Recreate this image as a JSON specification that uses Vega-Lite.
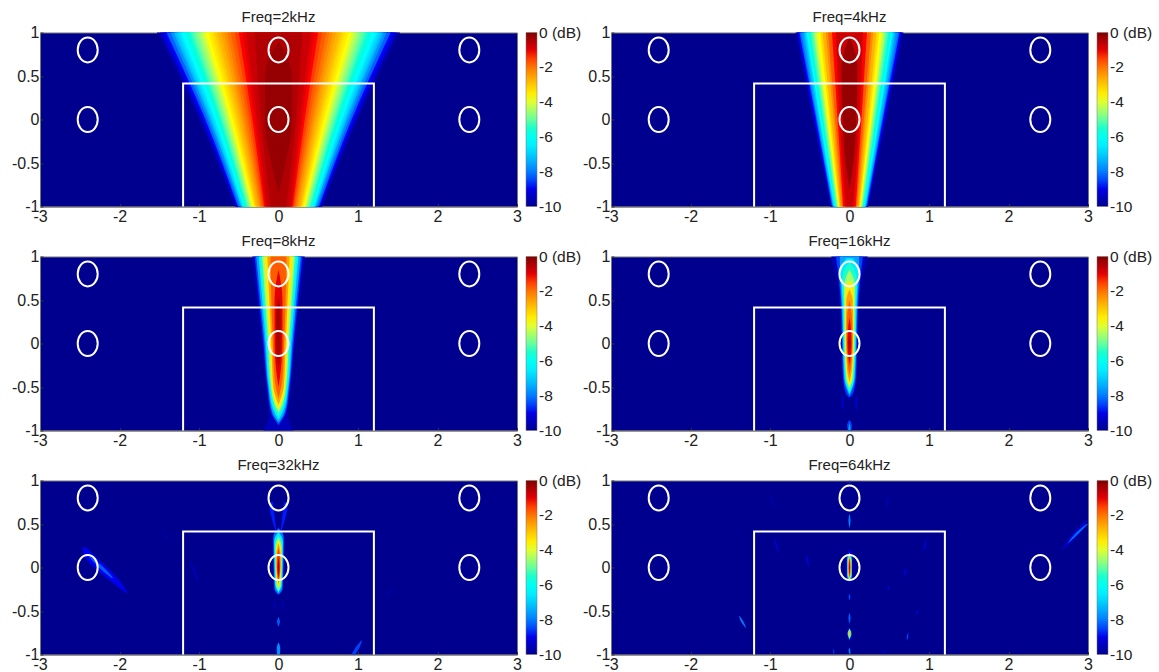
{"$schema":"https://vega.github.io/schema/vega-lite/v6.json",
"padding":{"left":10,"top":9.5,"right":0,"bottom":16},
"background":"white",
"config":{"view":{"fill":"#00008f","stroke":"#777777","strokeWidth":1},
"font":"Liberation Sans",
"title":{"fontSize":15,"fontWeight":"normal","color":"#222222","offset":-0.5,"font":"Liberation Sans"},
"axis":{"grid":false,"title":null,"labelFontSize":16,"labelColor":"#222222","labelFont":"Liberation Sans","domainColor":"#777777","tickColor":"#333333","tickSize":-3,"labelPadding":2,"labelFlush":false,"labelOverlap":false},
"axisX":{"labelExpr":"''+datum.value","labelPadding":5},
"axisY":{"labelExpr":"''+datum.value","labelPadding":4},
"legend":{"gradientLength":174,"gradientThickness":11,"offset":9,"padding":0,"labelFontSize":15.5,"labelColor":"#222222","labelFont":"Liberation Sans","labelOffset":1,"titlePadding":0,"gradientStrokeColor":"#777777","gradientStrokeWidth":0.5}},
"resolve":{"scale":{"color":"independent"}},
"columns":2,"spacing":{"row":50,"column":94},"bounds":"flush",
"datasets":{
"circles":[{"a":-2.4,"y":0.8},{"a":0,"y":0.8},{"a":2.4,"y":0.8},{"a":-2.4,"y":0},{"a":0,"y":0},{"a":2.4,"y":0}],
"box":[{"i":0,"a":-1.2,"y":-1},{"i":1,"a":-1.2,"y":0.414},{"i":2,"a":1.2,"y":0.414},{"i":3,"a":1.2,"y":-1}],
"d2":[
{"g":1,"v":-9.75,"y":1,"a":-1.53,"b":1.53},{"g":1,"v":-9.75,"y":0,"a":-1.0,"b":1.0},{"g":1,"v":-9.75,"y":-1,"a":-0.55,"b":0.55},
{"g":2,"v":-9.25,"y":1,"a":-1.49,"b":1.49},{"g":2,"v":-9.25,"y":0,"a":-0.975,"b":0.975},{"g":2,"v":-9.25,"y":-1,"a":-0.54,"b":0.54},
{"g":3,"v":-8.75,"y":1,"a":-1.45,"b":1.45},{"g":3,"v":-8.75,"y":0,"a":-0.95,"b":0.95},{"g":3,"v":-8.75,"y":-1,"a":-0.52,"b":0.52},
{"g":4,"v":-8.25,"y":1,"a":-1.41,"b":1.41},{"g":4,"v":-8.25,"y":0,"a":-0.92,"b":0.92},{"g":4,"v":-8.25,"y":-1,"a":-0.51,"b":0.51},
{"g":5,"v":-7.75,"y":1,"a":-1.36,"b":1.36},{"g":5,"v":-7.75,"y":0,"a":-0.89,"b":0.89},{"g":5,"v":-7.75,"y":-1,"a":-0.49,"b":0.49},
{"g":6,"v":-7.25,"y":1,"a":-1.32,"b":1.32},{"g":6,"v":-7.25,"y":0,"a":-0.86,"b":0.86},{"g":6,"v":-7.25,"y":-1,"a":-0.47,"b":0.47},
{"g":31,"v":-7,"y":1,"a":-1.295,"b":1.295},{"g":31,"v":-7,"y":0,"a":-0.845,"b":0.845},{"g":31,"v":-7,"y":-1,"a":-0.465,"b":0.465},
{"g":7,"v":-6.75,"y":1,"a":-1.27,"b":1.27},{"g":7,"v":-6.75,"y":0,"a":-0.83,"b":0.83},{"g":7,"v":-6.75,"y":-1,"a":-0.46,"b":0.46},
{"g":32,"v":-6.5,"y":1,"a":-1.245,"b":1.245},{"g":32,"v":-6.5,"y":0,"a":-0.81,"b":0.81},{"g":32,"v":-6.5,"y":-1,"a":-0.45,"b":0.45},
{"g":8,"v":-6.25,"y":1,"a":-1.22,"b":1.22},{"g":8,"v":-6.25,"y":0,"a":-0.795,"b":0.795},{"g":8,"v":-6.25,"y":-1,"a":-0.44,"b":0.44},
{"g":33,"v":-6,"y":1,"a":-1.19,"b":1.19},{"g":33,"v":-6,"y":0,"a":-0.78,"b":0.78},{"g":33,"v":-6,"y":-1,"a":-0.43,"b":0.43},
{"g":9,"v":-5.75,"y":1,"a":-1.16,"b":1.16},{"g":9,"v":-5.75,"y":0,"a":-0.76,"b":0.76},{"g":9,"v":-5.75,"y":-1,"a":-0.42,"b":0.42},
{"g":34,"v":-5.5,"y":1,"a":-1.13,"b":1.13},{"g":34,"v":-5.5,"y":0,"a":-0.74,"b":0.74},{"g":34,"v":-5.5,"y":-1,"a":-0.41,"b":0.41},
{"g":10,"v":-5.25,"y":1,"a":-1.1,"b":1.1},{"g":10,"v":-5.25,"y":0,"a":-0.72,"b":0.72},{"g":10,"v":-5.25,"y":-1,"a":-0.4,"b":0.4},
{"g":35,"v":-5,"y":1,"a":-1.07,"b":1.07},{"g":35,"v":-5,"y":0,"a":-0.7,"b":0.7},{"g":35,"v":-5,"y":-1,"a":-0.385,"b":0.385},
{"g":11,"v":-4.75,"y":1,"a":-1.04,"b":1.04},{"g":11,"v":-4.75,"y":0,"a":-0.68,"b":0.68},{"g":11,"v":-4.75,"y":-1,"a":-0.37,"b":0.37},
{"g":36,"v":-4.5,"y":1,"a":-1.01,"b":1.01},{"g":36,"v":-4.5,"y":0,"a":-0.66,"b":0.66},{"g":36,"v":-4.5,"y":-1,"a":-0.36,"b":0.36},
{"g":12,"v":-4.25,"y":1,"a":-0.98,"b":0.98},{"g":12,"v":-4.25,"y":0,"a":-0.64,"b":0.64},{"g":12,"v":-4.25,"y":-1,"a":-0.35,"b":0.35},
{"g":37,"v":-4,"y":1,"a":-0.95,"b":0.95},{"g":37,"v":-4,"y":0,"a":-0.62,"b":0.62},{"g":37,"v":-4,"y":-1,"a":-0.34,"b":0.34},
{"g":13,"v":-3.75,"y":1,"a":-0.92,"b":0.92},{"g":13,"v":-3.75,"y":0,"a":-0.6,"b":0.6},{"g":13,"v":-3.75,"y":-1,"a":-0.33,"b":0.33},
{"g":38,"v":-3.5,"y":1,"a":-0.88,"b":0.88},{"g":38,"v":-3.5,"y":0,"a":-0.575,"b":0.575},{"g":38,"v":-3.5,"y":-1,"a":-0.315,"b":0.315},
{"g":14,"v":-3.25,"y":1,"a":-0.84,"b":0.84},{"g":14,"v":-3.25,"y":0,"a":-0.55,"b":0.55},{"g":14,"v":-3.25,"y":-1,"a":-0.3,"b":0.3},
{"g":39,"v":-3,"y":1,"a":-0.805,"b":0.805},{"g":39,"v":-3,"y":0,"a":-0.525,"b":0.525},{"g":39,"v":-3,"y":-1,"a":-0.29,"b":0.29},
{"g":15,"v":-2.75,"y":1,"a":-0.77,"b":0.77},{"g":15,"v":-2.75,"y":0,"a":-0.5,"b":0.5},{"g":15,"v":-2.75,"y":-1,"a":-0.28,"b":0.28},
{"g":40,"v":-2.5,"y":1,"a":-0.725,"b":0.725},{"g":40,"v":-2.5,"y":0,"a":-0.47,"b":0.47},{"g":40,"v":-2.5,"y":-1,"a":-0.26,"b":0.26},
{"g":16,"v":-2.25,"y":1,"a":-0.68,"b":0.68},{"g":16,"v":-2.25,"y":0,"a":-0.445,"b":0.445},{"g":16,"v":-2.25,"y":-1,"a":-0.24,"b":0.24},
{"g":41,"v":-2,"y":1,"a":-0.64,"b":0.64},{"g":41,"v":-2,"y":0,"a":-0.42,"b":0.42},{"g":41,"v":-2,"y":-1,"a":-0.225,"b":0.225},
{"g":17,"v":-1.75,"y":1,"a":-0.6,"b":0.6},{"g":17,"v":-1.75,"y":0,"a":-0.39,"b":0.39},{"g":17,"v":-1.75,"y":-1,"a":-0.21,"b":0.21},
{"g":42,"v":-1.5,"y":1,"a":-0.55,"b":0.55},{"g":42,"v":-1.5,"y":0,"a":-0.36,"b":0.36},{"g":42,"v":-1.5,"y":-1,"a":-0.195,"b":0.195},
{"g":18,"v":-1.25,"y":1,"a":-0.5,"b":0.5},{"g":18,"v":-1.25,"y":0,"a":-0.33,"b":0.33},{"g":18,"v":-1.25,"y":-1,"a":-0.18,"b":0.18},
{"g":43,"v":-1,"y":1,"a":-0.455,"b":0.455},{"g":43,"v":-1,"y":0,"a":-0.3,"b":0.3},{"g":43,"v":-1,"y":-1,"a":-0.165,"b":0.165},
{"g":19,"v":-0.75,"y":1,"a":-0.41,"b":0.41},{"g":19,"v":-0.75,"y":0,"a":-0.27,"b":0.27},{"g":19,"v":-0.75,"y":-1,"a":-0.15,"b":0.15},
{"g":44,"v":-0.5,"y":1,"a":-0.3,"b":0.3},{"g":44,"v":-0.5,"y":0,"a":-0.22,"b":0.22},{"g":44,"v":-0.5,"y":-1,"a":-0.1,"b":0.1},
{"g":20,"v":-0.25,"y":0.9,"a":0,"b":0},{"g":20,"v":-0.25,"y":0.5,"a":-0.17,"b":0.17},{"g":20,"v":-0.25,"y":0,"a":-0.17,"b":0.17},{"g":20,"v":-0.25,"y":-0.5,"a":-0.09,"b":0.09},{"g":20,"v":-0.25,"y":-0.85,"a":0,"b":0}
],
"d4":[
{"g":1,"v":-9.75,"y":1,"a":-0.68,"b":0.68},{"g":1,"v":-9.75,"y":0,"a":-0.46,"b":0.46},{"g":1,"v":-9.75,"y":-1,"a":-0.24,"b":0.24},
{"g":2,"v":-9.25,"y":1,"a":-0.66,"b":0.66},{"g":2,"v":-9.25,"y":0,"a":-0.45,"b":0.45},{"g":2,"v":-9.25,"y":-1,"a":-0.23,"b":0.23},
{"g":3,"v":-8.75,"y":1,"a":-0.65,"b":0.65},{"g":3,"v":-8.75,"y":0,"a":-0.44,"b":0.44},{"g":3,"v":-8.75,"y":-1,"a":-0.225,"b":0.225},
{"g":4,"v":-8.25,"y":1,"a":-0.63,"b":0.63},{"g":4,"v":-8.25,"y":0,"a":-0.42,"b":0.42},{"g":4,"v":-8.25,"y":-1,"a":-0.22,"b":0.22},
{"g":5,"v":-7.75,"y":1,"a":-0.61,"b":0.61},{"g":5,"v":-7.75,"y":0,"a":-0.41,"b":0.41},{"g":5,"v":-7.75,"y":-1,"a":-0.21,"b":0.21},
{"g":6,"v":-7.25,"y":1,"a":-0.58,"b":0.58},{"g":6,"v":-7.25,"y":0,"a":-0.4,"b":0.4},{"g":6,"v":-7.25,"y":-1,"a":-0.205,"b":0.205},
{"g":7,"v":-6.75,"y":1,"a":-0.56,"b":0.56},{"g":7,"v":-6.75,"y":0,"a":-0.38,"b":0.38},{"g":7,"v":-6.75,"y":-1,"a":-0.2,"b":0.2},
{"g":8,"v":-6.25,"y":1,"a":-0.54,"b":0.54},{"g":8,"v":-6.25,"y":0,"a":-0.37,"b":0.37},{"g":8,"v":-6.25,"y":-1,"a":-0.19,"b":0.19},
{"g":9,"v":-5.75,"y":1,"a":-0.52,"b":0.52},{"g":9,"v":-5.75,"y":0,"a":-0.35,"b":0.35},{"g":9,"v":-5.75,"y":-1,"a":-0.18,"b":0.18},
{"g":10,"v":-5.25,"y":1,"a":-0.49,"b":0.49},{"g":10,"v":-5.25,"y":0,"a":-0.33,"b":0.33},{"g":10,"v":-5.25,"y":-1,"a":-0.17,"b":0.17},
{"g":11,"v":-4.75,"y":1,"a":-0.46,"b":0.46},{"g":11,"v":-4.75,"y":0,"a":-0.31,"b":0.31},{"g":11,"v":-4.75,"y":-1,"a":-0.16,"b":0.16},
{"g":12,"v":-4.25,"y":1,"a":-0.44,"b":0.44},{"g":12,"v":-4.25,"y":0,"a":-0.29,"b":0.29},{"g":12,"v":-4.25,"y":-1,"a":-0.15,"b":0.15},
{"g":13,"v":-3.75,"y":1,"a":-0.41,"b":0.41},{"g":13,"v":-3.75,"y":0,"a":-0.28,"b":0.28},{"g":13,"v":-3.75,"y":-1,"a":-0.14,"b":0.14},
{"g":14,"v":-3.25,"y":1,"a":-0.37,"b":0.37},{"g":14,"v":-3.25,"y":0,"a":-0.25,"b":0.25},{"g":14,"v":-3.25,"y":-1,"a":-0.13,"b":0.13},
{"g":15,"v":-2.75,"y":1,"a":-0.34,"b":0.34},{"g":15,"v":-2.75,"y":0,"a":-0.23,"b":0.23},{"g":15,"v":-2.75,"y":-1,"a":-0.12,"b":0.12},
{"g":16,"v":-2.25,"y":1,"a":-0.3,"b":0.3},{"g":16,"v":-2.25,"y":0,"a":-0.2,"b":0.2},{"g":16,"v":-2.25,"y":-1,"a":-0.11,"b":0.11},
{"g":17,"v":-1.75,"y":1,"a":-0.27,"b":0.27},{"g":17,"v":-1.75,"y":0,"a":-0.18,"b":0.18},{"g":17,"v":-1.75,"y":-1,"a":-0.09,"b":0.09},
{"g":18,"v":-1.25,"y":1,"a":-0.22,"b":0.22},{"g":18,"v":-1.25,"y":0,"a":-0.15,"b":0.15},{"g":18,"v":-1.25,"y":-1,"a":-0.08,"b":0.08},
{"g":19,"v":-0.75,"y":1,"a":-0.17,"b":0.17},{"g":19,"v":-0.75,"y":0,"a":-0.125,"b":0.125},{"g":19,"v":-0.75,"y":-1,"a":-0.05,"b":0.05},
{"g":20,"v":-0.25,"y":0.95,"a":0,"b":0},{"g":20,"v":-0.25,"y":0.6,"a":-0.1,"b":0.1},{"g":20,"v":-0.25,"y":0,"a":-0.085,"b":0.085},{"g":20,"v":-0.25,"y":-0.5,"a":-0.05,"b":0.05},{"g":20,"v":-0.25,"y":-0.8,"a":0,"b":0}
],
"d8":[
{"g":1,"v":-9.5,"y":1,"a":-0.33,"b":0.33},{"g":1,"v":-9.5,"y":0,"a":-0.21,"b":0.21},{"g":1,"v":-9.5,"y":-0.5,"a":-0.16,"b":0.16},{"g":1,"v":-9.5,"y":-0.8,"a":-0.12,"b":0.12},{"g":1,"v":-9.5,"y":-0.93,"a":-0.15,"b":0.15},{"g":1,"v":-9.5,"y":-1,"a":-0.19,"b":0.19},
{"g":2,"v":-8.5,"y":1,"a":-0.3,"b":0.3},{"g":2,"v":-8.5,"y":0,"a":-0.19,"b":0.19},{"g":2,"v":-8.5,"y":-0.5,"a":-0.14,"b":0.14},{"g":2,"v":-8.5,"y":-0.8,"a":-0.09,"b":0.09},{"g":2,"v":-8.5,"y":-0.94,"a":0,"b":0},
{"g":3,"v":-7.5,"y":1,"a":-0.28,"b":0.28},{"g":3,"v":-7.5,"y":0,"a":-0.175,"b":0.175},{"g":3,"v":-7.5,"y":-0.5,"a":-0.13,"b":0.13},{"g":3,"v":-7.5,"y":-0.8,"a":-0.075,"b":0.075},{"g":3,"v":-7.5,"y":-0.91,"a":0,"b":0},
{"g":4,"v":-6.5,"y":1,"a":-0.25,"b":0.25},{"g":4,"v":-6.5,"y":0,"a":-0.16,"b":0.16},{"g":4,"v":-6.5,"y":-0.5,"a":-0.12,"b":0.12},{"g":4,"v":-6.5,"y":-0.75,"a":-0.07,"b":0.07},{"g":4,"v":-6.5,"y":-0.88,"a":0,"b":0},
{"g":5,"v":-5.5,"y":1,"a":-0.23,"b":0.23},{"g":5,"v":-5.5,"y":0,"a":-0.145,"b":0.145},{"g":5,"v":-5.5,"y":-0.5,"a":-0.105,"b":0.105},{"g":5,"v":-5.5,"y":-0.75,"a":-0.05,"b":0.05},{"g":5,"v":-5.5,"y":-0.84,"a":0,"b":0},
{"g":6,"v":-4.5,"y":1,"a":-0.205,"b":0.205},{"g":6,"v":-4.5,"y":0,"a":-0.13,"b":0.13},{"g":6,"v":-4.5,"y":-0.5,"a":-0.095,"b":0.095},{"g":6,"v":-4.5,"y":-0.7,"a":-0.05,"b":0.05},{"g":6,"v":-4.5,"y":-0.8,"a":0,"b":0},
{"g":7,"v":-3.5,"y":1,"a":-0.18,"b":0.18},{"g":7,"v":-3.5,"y":0,"a":-0.11,"b":0.11},{"g":7,"v":-3.5,"y":-0.5,"a":-0.08,"b":0.08},{"g":7,"v":-3.5,"y":-0.65,"a":-0.05,"b":0.05},{"g":7,"v":-3.5,"y":-0.76,"a":0,"b":0},
{"g":8,"v":-2.5,"y":1,"a":-0.14,"b":0.14},{"g":8,"v":-2.5,"y":0,"a":-0.09,"b":0.09},{"g":8,"v":-2.5,"y":-0.5,"a":-0.065,"b":0.065},{"g":8,"v":-2.5,"y":-0.6,"a":-0.04,"b":0.04},{"g":8,"v":-2.5,"y":-0.7,"a":0,"b":0},
{"g":9,"v":-1.75,"y":1,"a":-0.1,"b":0.1},{"g":9,"v":-1.75,"y":0.5,"a":-0.09,"b":0.09},{"g":9,"v":-1.75,"y":0,"a":-0.07,"b":0.07},{"g":9,"v":-1.75,"y":-0.4,"a":-0.05,"b":0.05},{"g":9,"v":-1.75,"y":-0.63,"a":0,"b":0},
{"g":10,"v":-1,"y":0.85,"a":0,"b":0},{"g":10,"v":-1,"y":0.5,"a":-0.05,"b":0.05},{"g":10,"v":-1,"y":0,"a":-0.05,"b":0.05},{"g":10,"v":-1,"y":-0.3,"a":-0.03,"b":0.03},{"g":10,"v":-1,"y":-0.5,"a":0,"b":0},
{"g":11,"v":-0.4,"y":0.55,"a":0,"b":0},{"g":11,"v":-0.4,"y":0.3,"a":-0.03,"b":0.03},{"g":11,"v":-0.4,"y":0,"a":-0.03,"b":0.03},{"g":11,"v":-0.4,"y":-0.15,"a":-0.02,"b":0.02},{"g":11,"v":-0.4,"y":-0.3,"a":0,"b":0}
],
"d16":[
{"g":1,"v":-9.5,"y":1,"a":-0.23,"b":0.23},{"g":1,"v":-9.5,"y":0.7,"a":-0.15,"b":0.15},{"g":1,"v":-9.5,"y":0.4,"a":-0.12,"b":0.12},{"g":1,"v":-9.5,"y":0,"a":-0.105,"b":0.105},{"g":1,"v":-9.5,"y":-0.4,"a":-0.09,"b":0.09},{"g":1,"v":-9.5,"y":-0.58,"a":-0.06,"b":0.06},{"g":1,"v":-9.5,"y":-0.64,"a":0,"b":0},
{"g":2,"v":-8.5,"y":1,"a":-0.17,"b":0.17},{"g":2,"v":-8.5,"y":0.7,"a":-0.13,"b":0.13},{"g":2,"v":-8.5,"y":0.4,"a":-0.105,"b":0.105},{"g":2,"v":-8.5,"y":0,"a":-0.095,"b":0.095},{"g":2,"v":-8.5,"y":-0.4,"a":-0.08,"b":0.08},{"g":2,"v":-8.5,"y":-0.58,"a":-0.04,"b":0.04},{"g":2,"v":-8.5,"y":-0.62,"a":0,"b":0},
{"g":3,"v":-7.5,"y":1,"a":-0.12,"b":0.12},{"g":3,"v":-7.5,"y":0.85,"a":-0.12,"b":0.12},{"g":3,"v":-7.5,"y":0.7,"a":-0.115,"b":0.115},{"g":3,"v":-7.5,"y":0.4,"a":-0.095,"b":0.095},{"g":3,"v":-7.5,"y":0,"a":-0.085,"b":0.085},{"g":3,"v":-7.5,"y":-0.4,"a":-0.07,"b":0.07},{"g":3,"v":-7.5,"y":-0.6,"a":0,"b":0},
{"g":4,"v":-6.5,"y":0.98,"a":-0.04,"b":0.04},{"g":4,"v":-6.5,"y":0.85,"a":-0.11,"b":0.11},{"g":4,"v":-6.5,"y":0.7,"a":-0.1,"b":0.1},{"g":4,"v":-6.5,"y":0.4,"a":-0.085,"b":0.085},{"g":4,"v":-6.5,"y":0,"a":-0.078,"b":0.078},{"g":4,"v":-6.5,"y":-0.4,"a":-0.06,"b":0.06},{"g":4,"v":-6.5,"y":-0.58,"a":0,"b":0},
{"g":5,"v":-5.5,"y":0.93,"a":0,"b":0},{"g":5,"v":-5.5,"y":0.8,"a":-0.08,"b":0.08},{"g":5,"v":-5.5,"y":0.7,"a":-0.09,"b":0.09},{"g":5,"v":-5.5,"y":0.4,"a":-0.075,"b":0.075},{"g":5,"v":-5.5,"y":0,"a":-0.07,"b":0.07},{"g":5,"v":-5.5,"y":-0.4,"a":-0.05,"b":0.05},{"g":5,"v":-5.5,"y":-0.55,"a":0,"b":0},
{"g":6,"v":-4.5,"y":0.85,"a":0,"b":0},{"g":6,"v":-4.5,"y":0.75,"a":-0.05,"b":0.05},{"g":6,"v":-4.5,"y":0.65,"a":-0.07,"b":0.07},{"g":6,"v":-4.5,"y":0.4,"a":-0.065,"b":0.065},{"g":6,"v":-4.5,"y":0,"a":-0.062,"b":0.062},{"g":6,"v":-4.5,"y":-0.4,"a":-0.04,"b":0.04},{"g":6,"v":-4.5,"y":-0.52,"a":0,"b":0},
{"g":7,"v":-3.5,"y":0.72,"a":0,"b":0},{"g":7,"v":-3.5,"y":0.65,"a":-0.05,"b":0.05},{"g":7,"v":-3.5,"y":0.4,"a":-0.055,"b":0.055},{"g":7,"v":-3.5,"y":0,"a":-0.052,"b":0.052},{"g":7,"v":-3.5,"y":-0.4,"a":-0.03,"b":0.03},{"g":7,"v":-3.5,"y":-0.48,"a":0,"b":0},
{"g":8,"v":-2.5,"y":0.62,"a":0,"b":0},{"g":8,"v":-2.5,"y":0.5,"a":-0.04,"b":0.04},{"g":8,"v":-2.5,"y":0.2,"a":-0.045,"b":0.045},{"g":8,"v":-2.5,"y":0,"a":-0.043,"b":0.043},{"g":8,"v":-2.5,"y":-0.3,"a":-0.03,"b":0.03},{"g":8,"v":-2.5,"y":-0.44,"a":0,"b":0},
{"g":9,"v":-1.75,"y":0.5,"a":0,"b":0},{"g":9,"v":-1.75,"y":0.3,"a":-0.03,"b":0.03},{"g":9,"v":-1.75,"y":0,"a":-0.035,"b":0.035},{"g":9,"v":-1.75,"y":-0.2,"a":-0.025,"b":0.025},{"g":9,"v":-1.75,"y":-0.37,"a":0,"b":0},
{"g":10,"v":-1,"y":0.3,"a":0,"b":0},{"g":10,"v":-1,"y":0.15,"a":-0.02,"b":0.02},{"g":10,"v":-1,"y":0,"a":-0.025,"b":0.025},{"g":10,"v":-1,"y":-0.1,"a":-0.02,"b":0.02},{"g":10,"v":-1,"y":-0.25,"a":0,"b":0},
{"g":11,"v":-0.4,"y":0.1,"a":0,"b":0},{"g":11,"v":-0.4,"y":0,"a":-0.015,"b":0.015},{"g":11,"v":-0.4,"y":-0.1,"a":0,"b":0},
{"g":12,"v":-9.3,"y":-0.6,"a":-0.1,"b":-0.085},{"g":12,"v":-9.3,"y":-0.68,"a":-0.1,"b":-0.07},{"g":12,"v":-9.3,"y":-0.78,"a":-0.085,"b":-0.085},
{"g":13,"v":-9.3,"y":-0.6,"a":0.085,"b":0.1},{"g":13,"v":-9.3,"y":-0.68,"a":0.07,"b":0.1},{"g":13,"v":-9.3,"y":-0.78,"a":0.085,"b":0.085},
{"g":14,"v":-8.5,"y":-0.88,"a":0,"b":0},{"g":14,"v":-8.5,"y":-0.94,"a":-0.03,"b":0.03},{"g":14,"v":-8.5,"y":-1,"a":-0.02,"b":0.02},
{"g":15,"v":-7.5,"y":-0.92,"a":0,"b":0},{"g":15,"v":-7.5,"y":-0.97,"a":-0.012,"b":0.012},{"g":15,"v":-7.5,"y":-1,"a":-0.01,"b":0.01}
],
"d32":[
{"g":1,"v":-9.5,"y":0.48,"a":0,"b":0},{"g":1,"v":-9.5,"y":0.42,"a":-0.05,"b":0.05},{"g":1,"v":-9.5,"y":0.3,"a":-0.08,"b":0.08},{"g":1,"v":-9.5,"y":0,"a":-0.07,"b":0.07},{"g":1,"v":-9.5,"y":-0.25,"a":-0.06,"b":0.06},{"g":1,"v":-9.5,"y":-0.33,"a":0,"b":0},
{"g":2,"v":-8,"y":0.45,"a":0,"b":0},{"g":2,"v":-8,"y":0.35,"a":-0.065,"b":0.065},{"g":2,"v":-8,"y":0,"a":-0.06,"b":0.06},{"g":2,"v":-8,"y":-0.25,"a":-0.05,"b":0.05},{"g":2,"v":-8,"y":-0.31,"a":0,"b":0},
{"g":3,"v":-6.5,"y":0.41,"a":0,"b":0},{"g":3,"v":-6.5,"y":0.3,"a":-0.055,"b":0.055},{"g":3,"v":-6.5,"y":0,"a":-0.05,"b":0.05},{"g":3,"v":-6.5,"y":-0.2,"a":-0.042,"b":0.042},{"g":3,"v":-6.5,"y":-0.29,"a":0,"b":0},
{"g":4,"v":-5,"y":0.36,"a":0,"b":0},{"g":4,"v":-5,"y":0.25,"a":-0.042,"b":0.042},{"g":4,"v":-5,"y":0,"a":-0.04,"b":0.04},{"g":4,"v":-5,"y":-0.2,"a":-0.032,"b":0.032},{"g":4,"v":-5,"y":-0.27,"a":0,"b":0},
{"g":5,"v":-3.5,"y":0.33,"a":0,"b":0},{"g":5,"v":-3.5,"y":0.2,"a":-0.034,"b":0.034},{"g":5,"v":-3.5,"y":0,"a":-0.034,"b":0.034},{"g":5,"v":-3.5,"y":-0.15,"a":-0.026,"b":0.026},{"g":5,"v":-3.5,"y":-0.24,"a":0,"b":0},
{"g":6,"v":-2.5,"y":0.28,"a":0,"b":0},{"g":6,"v":-2.5,"y":0.15,"a":-0.027,"b":0.027},{"g":6,"v":-2.5,"y":0,"a":-0.027,"b":0.027},{"g":6,"v":-2.5,"y":-0.2,"a":0,"b":0},
{"g":7,"v":-1.5,"y":0.22,"a":0,"b":0},{"g":7,"v":-1.5,"y":0.1,"a":-0.021,"b":0.021},{"g":7,"v":-1.5,"y":0,"a":-0.021,"b":0.021},{"g":7,"v":-1.5,"y":-0.17,"a":0,"b":0},
{"g":8,"v":-0.5,"y":0.12,"a":0,"b":0},{"g":8,"v":-0.5,"y":0,"a":-0.013,"b":0.013},{"g":8,"v":-0.5,"y":-0.12,"a":0,"b":0},
{"g":9,"v":-8.7,"y":0.75,"a":-0.12,"b":-0.07},{"g":9,"v":-8.7,"y":0.6,"a":-0.095,"b":-0.05},{"g":9,"v":-8.7,"y":0.43,"a":-0.04,"b":-0.03},
{"g":10,"v":-8.7,"y":0.75,"a":0.07,"b":0.12},{"g":10,"v":-8.7,"y":0.6,"a":0.05,"b":0.095},{"g":10,"v":-8.7,"y":0.43,"a":0.03,"b":0.04},
{"g":11,"v":-9.4,"y":-0.38,"a":-0.05,"b":-0.05},{"g":11,"v":-9.4,"y":-0.43,"a":-0.06,"b":-0.04},{"g":11,"v":-9.4,"y":-0.5,"a":-0.05,"b":-0.05},
{"g":12,"v":-9.4,"y":-0.38,"a":0.05,"b":0.05},{"g":12,"v":-9.4,"y":-0.43,"a":0.04,"b":0.06},{"g":12,"v":-9.4,"y":-0.5,"a":0.05,"b":0.05},
{"g":13,"v":-8.3,"y":-0.57,"a":0,"b":0},{"g":13,"v":-8.3,"y":-0.62,"a":-0.018,"b":0.018},{"g":13,"v":-8.3,"y":-0.68,"a":0,"b":0},
{"g":14,"v":-7.8,"y":-0.86,"a":0,"b":0},{"g":14,"v":-7.8,"y":-0.93,"a":-0.022,"b":0.022},{"g":14,"v":-7.8,"y":-1,"a":-0.018,"b":0.018},
{"g":15,"v":-8.9,"y":0.23,"a":-2.47,"b":-2.42},{"g":15,"v":-8.9,"y":0.1,"a":-2.42,"b":-2.27},{"g":15,"v":-8.9,"y":-0.07,"a":-2.23,"b":-2.08},{"g":15,"v":-8.9,"y":-0.2,"a":-2.05,"b":-1.96},{"g":15,"v":-8.9,"y":-0.29,"a":-1.92,"b":-1.9},
{"g":16,"v":-8.3,"y":0.12,"a":-2.38,"b":-2.36},{"g":16,"v":-8.3,"y":0,"a":-2.26,"b":-2.2},{"g":16,"v":-8.3,"y":-0.12,"a":-2.1,"b":-2.08},
{"g":17,"v":-9.5,"y":0.06,"a":-1.12,"b":-1.11},{"g":17,"v":-9.5,"y":-0.06,"a":-1.07,"b":-1.04},{"g":17,"v":-9.5,"y":-0.19,"a":-1,"b":-1},
{"g":18,"v":-9.7,"y":0.43,"a":-1.45,"b":-1.45},{"g":18,"v":-9.7,"y":0.36,"a":-1.43,"b":-1.41},{"g":18,"v":-9.7,"y":0.3,"a":-1.39,"b":-1.39},
{"g":19,"v":-8.5,"y":-0.84,"a":1.04,"b":1.05},{"g":19,"v":-8.5,"y":-0.92,"a":0.97,"b":1.02},{"g":19,"v":-8.5,"y":-1,"a":0.92,"b":0.96},
{"g":20,"v":-9.7,"y":-0.23,"a":1.43,"b":1.44},{"g":20,"v":-9.7,"y":-0.3,"a":1.37,"b":1.39},{"g":20,"v":-9.7,"y":-0.37,"a":1.33,"b":1.33}
],
"d64":[
{"g":1,"v":-9,"y":0.21,"a":0,"b":0},{"g":1,"v":-9,"y":0.1,"a":-0.04,"b":0.04},{"g":1,"v":-9,"y":-0.1,"a":-0.04,"b":0.04},{"g":1,"v":-9,"y":-0.18,"a":0,"b":0},
{"g":2,"v":-7,"y":0.17,"a":0,"b":0},{"g":2,"v":-7,"y":0.1,"a":-0.03,"b":0.03},{"g":2,"v":-7,"y":-0.1,"a":-0.03,"b":0.03},{"g":2,"v":-7,"y":-0.15,"a":0,"b":0},
{"g":3,"v":-5,"y":0.14,"a":0,"b":0},{"g":3,"v":-5,"y":0.08,"a":-0.024,"b":0.024},{"g":3,"v":-5,"y":-0.08,"a":-0.024,"b":0.024},{"g":3,"v":-5,"y":-0.14,"a":0,"b":0},
{"g":4,"v":-3,"y":0.13,"a":0,"b":0},{"g":4,"v":-3,"y":0.06,"a":-0.018,"b":0.018},{"g":4,"v":-3,"y":-0.06,"a":-0.018,"b":0.018},{"g":4,"v":-3,"y":-0.13,"a":0,"b":0},
{"g":5,"v":-1.5,"y":0.12,"a":0,"b":0},{"g":5,"v":-1.5,"y":0,"a":-0.013,"b":0.013},{"g":5,"v":-1.5,"y":-0.12,"a":0,"b":0},
{"g":28,"v":-0.7,"y":0.1,"a":0,"b":0},{"g":28,"v":-0.7,"y":0,"a":-0.007,"b":0.007},{"g":28,"v":-0.7,"y":-0.1,"a":0,"b":0},
{"g":6,"v":-8,"y":0.62,"a":0,"b":0},{"g":6,"v":-8,"y":0.54,"a":-0.014,"b":0.014},{"g":6,"v":-8,"y":0.45,"a":0,"b":0},
{"g":7,"v":-8.5,"y":1,"a":-0.005,"b":0.005},{"g":7,"v":-8.5,"y":0.96,"a":0,"b":0},
{"g":8,"v":-8.5,"y":-0.3,"a":0,"b":0},{"g":8,"v":-8.5,"y":-0.34,"a":-0.012,"b":0.012},{"g":8,"v":-8.5,"y":-0.38,"a":0,"b":0},
{"g":9,"v":-8.3,"y":-0.52,"a":0,"b":0},{"g":9,"v":-8.3,"y":-0.58,"a":-0.014,"b":0.014},{"g":9,"v":-8.3,"y":-0.65,"a":0,"b":0},
{"g":10,"v":-9,"y":-0.69,"a":0,"b":0},{"g":10,"v":-9,"y":-0.76,"a":-0.03,"b":0.03},{"g":10,"v":-9,"y":-0.84,"a":0,"b":0},
{"g":11,"v":-6,"y":-0.7,"a":0,"b":0},{"g":11,"v":-6,"y":-0.76,"a":-0.024,"b":0.024},{"g":11,"v":-6,"y":-0.83,"a":0,"b":0},
{"g":12,"v":-3,"y":-0.71,"a":0,"b":0},{"g":12,"v":-3,"y":-0.76,"a":-0.015,"b":0.015},{"g":12,"v":-3,"y":-0.81,"a":0,"b":0},
{"g":13,"v":-8,"y":-0.92,"a":0,"b":0},{"g":13,"v":-8,"y":-0.96,"a":-0.012,"b":0.012},{"g":13,"v":-8,"y":-1,"a":0,"b":0},
{"g":14,"v":-8,"y":-0.56,"a":-1.39,"b":-1.38},{"g":14,"v":-8,"y":-0.63,"a":-1.36,"b":-1.33},{"g":14,"v":-8,"y":-0.7,"a":-1.3,"b":-1.3},
{"g":15,"v":-9.3,"y":0.2,"a":2.67,"b":2.68},{"g":15,"v":-9.3,"y":0.38,"a":2.8,"b":2.88},{"g":15,"v":-9.3,"y":0.55,"a":2.98,"b":3},
{"g":16,"v":-8.2,"y":0.27,"a":2.74,"b":2.74},{"g":16,"v":-8.2,"y":0.38,"a":2.83,"b":2.87},{"g":16,"v":-8.2,"y":0.5,"a":2.98,"b":3},
{"g":17,"v":-9.5,"y":0.85,"a":-1,"b":-1},{"g":17,"v":-9.5,"y":0.75,"a":-0.98,"b":-0.96},{"g":17,"v":-9.5,"y":0.66,"a":-0.93,"b":-0.93},
{"g":18,"v":-9,"y":0.35,"a":-0.95,"b":-0.95},{"g":18,"v":-9,"y":0.25,"a":-0.93,"b":-0.91},{"g":18,"v":-9,"y":0.15,"a":-0.89,"b":-0.89},
{"g":19,"v":-9,"y":0.16,"a":-0.55,"b":-0.55},{"g":19,"v":-9,"y":0.08,"a":-0.54,"b":-0.52},{"g":19,"v":-9,"y":0,"a":-0.51,"b":-0.51},
{"g":20,"v":-9,"y":0,"a":0.72,"b":0.72},{"g":20,"v":-9,"y":-0.06,"a":0.69,"b":0.71},{"g":20,"v":-9,"y":-0.12,"a":0.69,"b":0.69},
{"g":21,"v":-9,"y":0.33,"a":0.97,"b":0.97},{"g":21,"v":-9,"y":0.25,"a":0.94,"b":0.96},{"g":21,"v":-9,"y":0.18,"a":0.93,"b":0.93},
{"g":22,"v":-9.5,"y":0.83,"a":0.49,"b":0.49},{"g":22,"v":-9.5,"y":0.75,"a":0.47,"b":0.49},{"g":22,"v":-9.5,"y":0.68,"a":0.47,"b":0.47},
{"g":23,"v":-8.5,"y":-0.75,"a":0.74,"b":0.74},{"g":23,"v":-8.5,"y":-0.8,"a":0.72,"b":0.74},{"g":23,"v":-8.5,"y":-0.84,"a":0.72,"b":0.72},
{"g":24,"v":-9,"y":-0.48,"a":0.87,"b":0.87},{"g":24,"v":-9,"y":-0.52,"a":0.84,"b":0.86},{"g":24,"v":-9,"y":-0.55,"a":0.83,"b":0.83},
{"g":25,"v":-8.5,"y":-0.93,"a":-0.2,"b":-0.2},{"g":25,"v":-8.5,"y":-0.97,"a":-0.205,"b":-0.19},{"g":25,"v":-8.5,"y":-1,"a":-0.2,"b":-0.2},
{"g":26,"v":-9,"y":-0.95,"a":0.44,"b":0.44},{"g":26,"v":-9,"y":-0.98,"a":0.42,"b":0.44},{"g":26,"v":-9,"y":-1,"a":0.42,"b":0.42},
{"g":27,"v":-9,"y":-0.2,"a":0.5,"b":0.5},{"g":27,"v":-9,"y":-0.23,"a":0.48,"b":0.5},{"g":27,"v":-9,"y":-0.26,"a":0.48,"b":0.48}
]
},
"concat":[
{"title":"Freq=2kHz","width":477,"height":174,"encoding":{"x":{"field":"a","type":"quantitative","scale":{"domain":[-3,3],"nice":false,"zero":false},"axis":{"values":[-3,-2,-1,0,1,2,3]}},"y":{"field":"y","type":"quantitative","scale":{"domain":[-1,1],"nice":false,"zero":false},"axis":{"values":[-1,-0.5,0,0.5,1]}}},
"layer":[
{"data":{"name":"d2"},"mark":{"type":"area","orient":"horizontal","interpolate":"monotone"},"encoding":{"x2":{"field":"b"},"detail":{"field":"g"},"color":{"field":"v","type":"quantitative","scale":{"domain":[-10,-8.75,-6.25,-3.75,-1.25,0],"range":["#00008f","#0000ff","#00ffff","#ffff00","#ff0000","#7f0000"]},"legend":{"title":null,"values":[-10,-8,-6,-4,-2,0],"labelExpr":"datum.value==0?'0 (dB)':''+datum.value","encoding":{"labels":{"baseline":{"value":"middle"}}}}}}},
{"data":{"name":"box"},"mark":{"type":"line","color":"white","strokeWidth":2},"encoding":{"order":{"field":"i"}}},
{"data":{"name":"circles"},"mark":{"type":"point","shape":"M-1,0A1,1.25,0,1,0,1,0A1,1.25,0,1,0,-1,0Z","size":400,"filled":false,"color":"white","strokeWidth":2,"opacity":1}}
]},
{"title":"Freq=4kHz","width":477,"height":174,"encoding":{"x":{"field":"a","type":"quantitative","scale":{"domain":[-3,3],"nice":false,"zero":false},"axis":{"values":[-3,-2,-1,0,1,2,3]}},"y":{"field":"y","type":"quantitative","scale":{"domain":[-1,1],"nice":false,"zero":false},"axis":{"values":[-1,-0.5,0,0.5,1]}}},
"layer":[
{"data":{"name":"d4"},"mark":{"type":"area","orient":"horizontal","interpolate":"monotone"},"encoding":{"x2":{"field":"b"},"detail":{"field":"g"},"color":{"field":"v","type":"quantitative","scale":{"domain":[-10,-8.75,-6.25,-3.75,-1.25,0],"range":["#00008f","#0000ff","#00ffff","#ffff00","#ff0000","#7f0000"]},"legend":{"title":null,"values":[-10,-8,-6,-4,-2,0],"labelExpr":"datum.value==0?'0 (dB)':''+datum.value","encoding":{"labels":{"baseline":{"value":"middle"}}}}}}},
{"data":{"name":"box"},"mark":{"type":"line","color":"white","strokeWidth":2},"encoding":{"order":{"field":"i"}}},
{"data":{"name":"circles"},"mark":{"type":"point","shape":"M-1,0A1,1.25,0,1,0,1,0A1,1.25,0,1,0,-1,0Z","size":400,"filled":false,"color":"white","strokeWidth":2,"opacity":1}}
]},
{"title":"Freq=8kHz","width":477,"height":174,"encoding":{"x":{"field":"a","type":"quantitative","scale":{"domain":[-3,3],"nice":false,"zero":false},"axis":{"values":[-3,-2,-1,0,1,2,3]}},"y":{"field":"y","type":"quantitative","scale":{"domain":[-1,1],"nice":false,"zero":false},"axis":{"values":[-1,-0.5,0,0.5,1]}}},
"layer":[
{"data":{"name":"d8"},"mark":{"type":"area","orient":"horizontal","interpolate":"monotone"},"encoding":{"x2":{"field":"b"},"detail":{"field":"g"},"color":{"field":"v","type":"quantitative","scale":{"domain":[-10,-8.75,-6.25,-3.75,-1.25,0],"range":["#00008f","#0000ff","#00ffff","#ffff00","#ff0000","#7f0000"]},"legend":{"title":null,"values":[-10,-8,-6,-4,-2,0],"labelExpr":"datum.value==0?'0 (dB)':''+datum.value","encoding":{"labels":{"baseline":{"value":"middle"}}}}}}},
{"data":{"name":"box"},"mark":{"type":"line","color":"white","strokeWidth":2},"encoding":{"order":{"field":"i"}}},
{"data":{"name":"circles"},"mark":{"type":"point","shape":"M-1,0A1,1.25,0,1,0,1,0A1,1.25,0,1,0,-1,0Z","size":400,"filled":false,"color":"white","strokeWidth":2,"opacity":1}}
]},
{"title":"Freq=16kHz","width":477,"height":174,"encoding":{"x":{"field":"a","type":"quantitative","scale":{"domain":[-3,3],"nice":false,"zero":false},"axis":{"values":[-3,-2,-1,0,1,2,3]}},"y":{"field":"y","type":"quantitative","scale":{"domain":[-1,1],"nice":false,"zero":false},"axis":{"values":[-1,-0.5,0,0.5,1]}}},
"layer":[
{"data":{"name":"d16"},"mark":{"type":"area","orient":"horizontal","interpolate":"monotone"},"encoding":{"x2":{"field":"b"},"detail":{"field":"g"},"color":{"field":"v","type":"quantitative","scale":{"domain":[-10,-8.75,-6.25,-3.75,-1.25,0],"range":["#00008f","#0000ff","#00ffff","#ffff00","#ff0000","#7f0000"]},"legend":{"title":null,"values":[-10,-8,-6,-4,-2,0],"labelExpr":"datum.value==0?'0 (dB)':''+datum.value","encoding":{"labels":{"baseline":{"value":"middle"}}}}}}},
{"data":{"name":"box"},"mark":{"type":"line","color":"white","strokeWidth":2},"encoding":{"order":{"field":"i"}}},
{"data":{"name":"circles"},"mark":{"type":"point","shape":"M-1,0A1,1.25,0,1,0,1,0A1,1.25,0,1,0,-1,0Z","size":400,"filled":false,"color":"white","strokeWidth":2,"opacity":1}}
]},
{"title":"Freq=32kHz","width":477,"height":174,"encoding":{"x":{"field":"a","type":"quantitative","scale":{"domain":[-3,3],"nice":false,"zero":false},"axis":{"values":[-3,-2,-1,0,1,2,3]}},"y":{"field":"y","type":"quantitative","scale":{"domain":[-1,1],"nice":false,"zero":false},"axis":{"values":[-1,-0.5,0,0.5,1]}}},
"layer":[
{"data":{"name":"d32"},"mark":{"type":"area","orient":"horizontal","interpolate":"monotone"},"encoding":{"x2":{"field":"b"},"detail":{"field":"g"},"color":{"field":"v","type":"quantitative","scale":{"domain":[-10,-8.75,-6.25,-3.75,-1.25,0],"range":["#00008f","#0000ff","#00ffff","#ffff00","#ff0000","#7f0000"]},"legend":{"title":null,"values":[-10,-8,-6,-4,-2,0],"labelExpr":"datum.value==0?'0 (dB)':''+datum.value","encoding":{"labels":{"baseline":{"value":"middle"}}}}}}},
{"data":{"name":"box"},"mark":{"type":"line","color":"white","strokeWidth":2},"encoding":{"order":{"field":"i"}}},
{"data":{"name":"circles"},"mark":{"type":"point","shape":"M-1,0A1,1.25,0,1,0,1,0A1,1.25,0,1,0,-1,0Z","size":400,"filled":false,"color":"white","strokeWidth":2,"opacity":1}}
]},
{"title":"Freq=64kHz","width":477,"height":174,"encoding":{"x":{"field":"a","type":"quantitative","scale":{"domain":[-3,3],"nice":false,"zero":false},"axis":{"values":[-3,-2,-1,0,1,2,3]}},"y":{"field":"y","type":"quantitative","scale":{"domain":[-1,1],"nice":false,"zero":false},"axis":{"values":[-1,-0.5,0,0.5,1]}}},
"layer":[
{"data":{"name":"d64"},"mark":{"type":"area","orient":"horizontal","interpolate":"monotone"},"encoding":{"x2":{"field":"b"},"detail":{"field":"g"},"color":{"field":"v","type":"quantitative","scale":{"domain":[-10,-8.75,-6.25,-3.75,-1.25,0],"range":["#00008f","#0000ff","#00ffff","#ffff00","#ff0000","#7f0000"]},"legend":{"title":null,"values":[-10,-8,-6,-4,-2,0],"labelExpr":"datum.value==0?'0 (dB)':''+datum.value","encoding":{"labels":{"baseline":{"value":"middle"}}}}}}},
{"data":{"name":"box"},"mark":{"type":"line","color":"white","strokeWidth":2},"encoding":{"order":{"field":"i"}}},
{"data":{"name":"circles"},"mark":{"type":"point","shape":"M-1,0A1,1.25,0,1,0,1,0A1,1.25,0,1,0,-1,0Z","size":400,"filled":false,"color":"white","strokeWidth":2,"opacity":1}}
]}
]}
